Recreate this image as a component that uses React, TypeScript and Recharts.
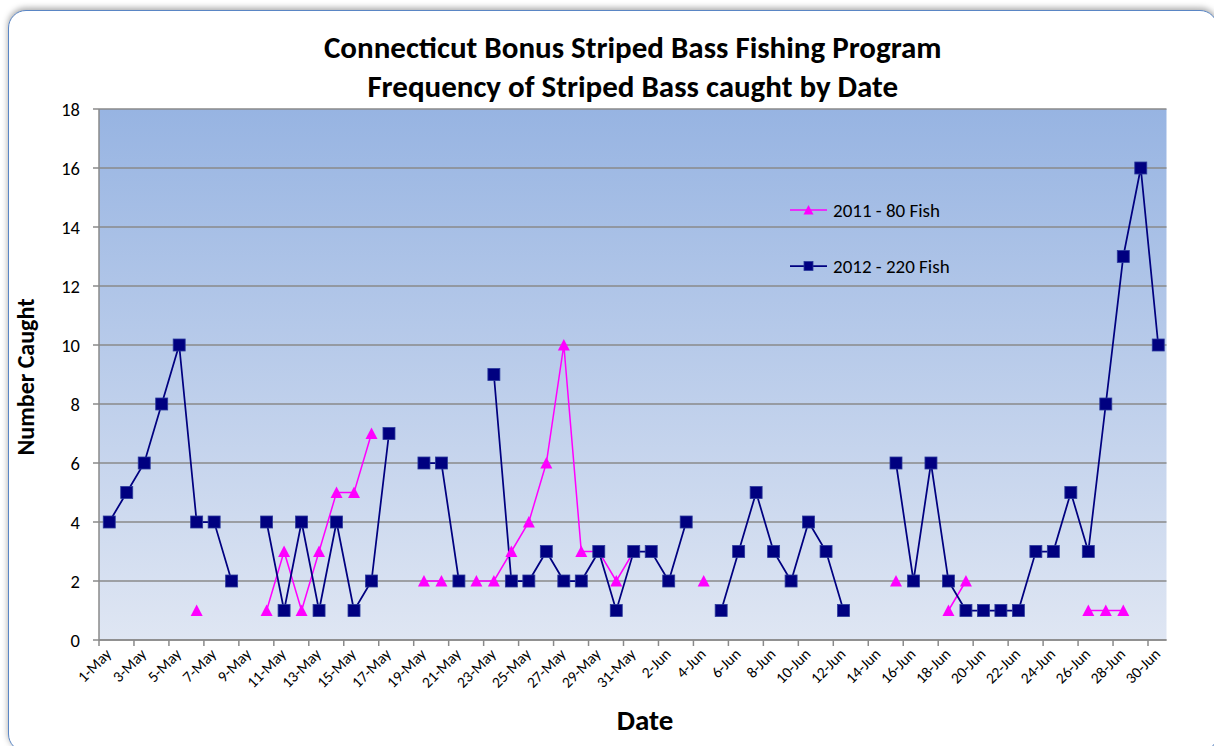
import React from "react";
import { LineChart, Line, XAxis, YAxis, CartesianGrid, Legend } from "recharts";

const dates: string[] = [
  "1-May", "2-May", "3-May", "4-May", "5-May", "6-May", "7-May", "8-May", "9-May", "10-May",
  "11-May", "12-May", "13-May", "14-May", "15-May", "16-May", "17-May", "18-May", "19-May", "20-May",
  "21-May", "22-May", "23-May", "24-May", "25-May", "26-May", "27-May", "28-May", "29-May", "30-May",
  "31-May", "1-Jun", "2-Jun", "3-Jun", "4-Jun", "5-Jun", "6-Jun", "7-Jun", "8-Jun", "9-Jun",
  "10-Jun", "11-Jun", "12-Jun", "13-Jun", "14-Jun", "15-Jun", "16-Jun", "17-Jun", "18-Jun", "19-Jun",
  "20-Jun", "21-Jun", "22-Jun", "23-Jun", "24-Jun", "25-Jun", "26-Jun", "27-Jun", "28-Jun", "29-Jun",
  "30-Jun",
];

const catch2011: (number | null)[] = [
  null, null, null, null, null, 1, null, null, null, 1,
  3, 1, 3, 5, 5, 7, null, null, 2, 2,
  null, 2, 2, 3, 4, 6, 10, 3, 3, 2,
  3, null, null, null, 2, null, null, null, null, null,
  null, null, null, null, null, 2, null, null, 1, 2,
  null, null, null, null, null, null, 1, 1, 1, null,
  null,
];

const catch2012: (number | null)[] = [
  4, 5, 6, 8, 10, 4, 4, 2, null, 4,
  1, 4, 1, 4, 1, 2, 7, null, 6, 6,
  2, null, 9, 2, 2, 3, 2, 2, 3, 1,
  3, 3, 2, 4, null, 1, 3, 5, 3, 2,
  4, 3, 1, null, null, 6, 2, 6, 2, 1,
  1, 1, 1, 3, 3, 5, 3, 8, 13, 16,
  10,
];

const yTicks: number[] = [0, 2, 4, 6, 8, 10, 12, 14, 16, 18];

const name2011 = "2011 - 80 Fish";
const name2012 = "2012 - 220 Fish";
const titleLine1 = "Connecticut Bonus Striped Bass Fishing Program";
const titleLine2 = "Frequency of Striped Bass caught by Date";
const xTitle = "Date";
const yTitle = "Number Caught";

const data = dates.map((d, i) => ({ date: d, y2011: catch2011[i], y2012: catch2012[i] }));

const FONT = "Carlito, Lato, sans-serif";
const NAVY = "#000080";
const MAGENTA = "#FF00FF";
const GRID = "#8A8A8A";

const W = 1214;
const H = 746;
const PLOT_LEFT = 99;
const PLOT_TOP = 109;
const PLOT_RIGHT = 1166.5;
const PLOT_BOTTOM = 640;
const BAND = (PLOT_RIGHT - PLOT_LEFT) / dates.length;
const SHIFT = 1.5;

const SquareDot = (props: any) => {
  const { cx, cy, value, index } = props;
  if (value == null || cx == null || cy == null) return <g key={`s${index}`} />;
  return (
    <rect key={`s${index}`} x={cx - 6} y={cy - 6} width={12} height={12}
      fill={NAVY} stroke="#2B3A9C" strokeWidth={0.8} />
  );
};

const TriangleDot = (props: any) => {
  const { cx, cy, value, index } = props;
  if (value == null || cx == null || cy == null) return <g key={`t${index}`} />;
  return (
    <polygon key={`t${index}`}
      points={`${cx},${cy - 6} ${cx - 6},${cy + 5.5} ${cx + 6},${cy + 5.5}`}
      fill={MAGENTA} />
  );
};

const XTick = (props: any) => {
  const { x, y, payload } = props;
  const tx = x - SHIFT - BAND / 2;
  return (
    <g>
      <line x1={tx} y1={PLOT_BOTTOM} x2={tx} y2={PLOT_BOTTOM + 6} stroke={GRID} strokeWidth={1.5} />
      <text x={x + 3} y={y + 7} textAnchor="end" fontSize={15.5} fontFamily={FONT} fill="#000"
        transform={`rotate(-45, ${x + 3}, ${y + 7})`}>
        {payload.value}
      </text>
    </g>
  );
};

const LegendContent = () => {
  const rows = [
    { name: name2011, color: MAGENTA, kind: "tri" },
    { name: name2012, color: NAVY, kind: "sq" },
  ];
  return (
    <div style={{ fontFamily: FONT, fontSize: 19, color: "#000" }}>
      {rows.map((r, i) => (
        <div key={r.name} style={{ display: "flex", alignItems: "center", height: 20, marginTop: i === 0 ? 0 : 36 }}>
          <svg width={44} height={20} style={{ display: "block" }}>
            <line x1={1} y1={10} x2={38} y2={10} stroke={r.color} strokeWidth={r.kind === "sq" ? 1.75 : 1.5} />
            {r.kind === "tri" ? (
              <polygon points="19.5,5 14.5,14.5 24.5,14.5" fill={r.color} />
            ) : (
              <rect x={15} y={5.5} width={9} height={9} fill={r.color} stroke="#2B3A9C" strokeWidth={0.8} />
            )}
          </svg>
          <span style={{ whiteSpace: "nowrap" }}>{r.name}</span>
        </div>
      ))}
    </div>
  );
};

export default function App() {
  return (
    <div style={{ position: "absolute", left: 0, top: 0, width: W, height: H, overflow: "hidden", background: "#fff" }}>
      <div style={{
        position: "absolute", left: 8, top: 10, width: 1208, height: 740,
        border: "1px solid #5A86C5", borderRadius: 18, background: "#fff",
        boxShadow: "0 -2px 6px rgba(0,0,0,0.35)",
      }} />
      <div style={{
        position: "absolute", left: PLOT_LEFT, top: 28, width: PLOT_RIGHT - PLOT_LEFT,
        textAlign: "center", fontFamily: FONT, fontWeight: 700, fontSize: 31, lineHeight: "39px", color: "#000",
      }}>
        <div>{titleLine1}</div>
        <div>{titleLine2}</div>
      </div>
      <div style={{ position: "absolute", left: 0, top: 0 }}>
        <LineChart width={W} height={H} data={data}
          margin={{ top: PLOT_TOP, right: W - PLOT_RIGHT, bottom: 0, left: 0 }}>
          <defs>
            <linearGradient id="plotBg" x1="0" y1="0" x2="0" y2="1">
              <stop offset="0%" stopColor="#97B4E2" />
              <stop offset="100%" stopColor="#DFE6F3" />
            </linearGradient>
          </defs>
          <CartesianGrid vertical={false} stroke={GRID} strokeWidth={1.5} fill="url(#plotBg)" fillOpacity={1} />
          <XAxis dataKey="date" interval={1} height={H - PLOT_BOTTOM} tickSize={6} tickMargin={2}
            padding={{ left: BAND / 2 + SHIFT, right: BAND / 2 - 0.5 }}
            tickLine={false} axisLine={{ stroke: GRID, strokeWidth: 1.5 }} tick={<XTick />} />
          <YAxis domain={[0, 18]} ticks={yTicks} width={PLOT_LEFT} tickSize={6} tickMargin={13}
            axisLine={{ stroke: GRID, strokeWidth: 1.5 }} tickLine={{ stroke: GRID, strokeWidth: 1.5 }}
            tick={{ fontSize: 18.5, fontFamily: FONT, fill: "#000" }} />
          <Legend layout="vertical" align="center" verticalAlign="middle" content={<LegendContent />}
            wrapperStyle={{ left: 789, top: 200, width: 240, height: 80 }} />
          <Line name={name2011} dataKey="y2011" stroke={MAGENTA} strokeWidth={1.5} dot={TriangleDot}
            activeDot={false} isAnimationActive={false} connectNulls={false} />
          <Line name={name2012} dataKey="y2012" stroke={NAVY} strokeWidth={1.75} dot={SquareDot}
            activeDot={false} isAnimationActive={false} connectNulls={false} />
        </LineChart>
      </div>
      <div style={{
        position: "absolute", left: 25, top: 377, transform: "translate(-50%, -50%) rotate(-90deg)",
        fontFamily: FONT, fontWeight: 700, fontSize: 24, whiteSpace: "nowrap", color: "#000",
      }}>{yTitle}</div>
      <div style={{
        position: "absolute", left: 645, top: 720, transform: "translate(-50%, -50%)",
        fontFamily: FONT, fontWeight: 700, fontSize: 29, whiteSpace: "nowrap", color: "#000",
      }}>{xTitle}</div>
    </div>
  );
}
